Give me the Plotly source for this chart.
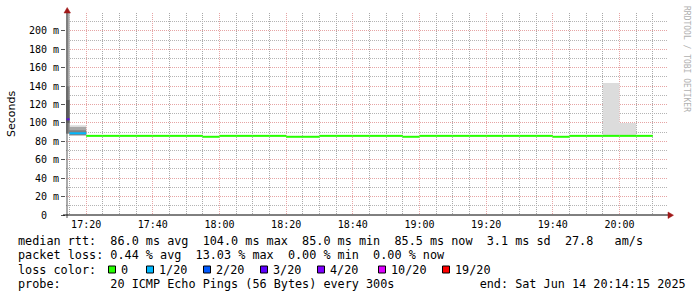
import plotly.graph_objects as go
import pandas as pd

# ---------------- data ----------------
interval_start = list(pd.date_range("2025-06-14 17:10", "2025-06-14 20:05", freq="5min"))
median_ms = ([104.0, 88.8] + [86.0] * 7 + [85.0] + [86.0] * 4 + [85.0, 85.0] + [86.0] * 5
             + [85.0] + [86.0] * 8 + [85.0] + [86.0] * 5)
loss_pings = [3, 1] + [0] * 34

# smoke bands (ms): outermost -> innermost
smoke_b1_lo = [88.0, 86.0] + [85.5] * 34
smoke_b1_hi = [219.5, 97.5] + [86.5] * 31 + [143.5, 100.0, 86.5]
smoke_b2_lo = [88.0, 86.5] + [85.5] * 34
smoke_b2_hi = [219.5, 95.5] + [86.5] * 34
smoke_b3_lo = [89.0, 87.0] + [85.5] * 34
smoke_b3_hi = [140.0, 92.0] + [86.5] * 34
smoke_b4_lo = [100.0, 87.0] + [85.5] * 34
smoke_b4_hi = [125.0, 87.5] + [86.5] * 34

loss_levels = [0, 1, 2, 3, 4, 10, 19]
loss_labels = ["0", "1/20", "2/20", "3/20", "4/20", "10/20", "19/20"]
loss_colors = ["#26ff00", "#00b8ff", "#0059ff", "#5e00ff", "#7e00ff", "#dd00ff", "#ff0000"]

y_tick_vals = [0, 20, 40, 60, 80, 100, 120, 140, 160, 180, 200]
y_tick_text = ["0  ", "20 m", "40 m", "60 m", "80 m", "100 m", "120 m", "140 m",
               "160 m", "180 m", "200 m"]

stats_line1 = "median rtt:  86.0 ms avg  104.0 ms max  85.0 ms min  85.5 ms now  3.1 ms sd  27.8   am/s"
stats_line2 = "packet loss: 0.44 % avg  13.03 % max  0.00 % min  0.00 % now"
probe_line = "probe:       20 ICMP Echo Pings (56 Bytes) every 300s            end: Sat Jun 14 20:14:15 2025"

x_start = "2025-06-14 17:13:57"
x_end = "2025-06-14 20:14:15"

# ---------------- layout geometry ----------------
W, H = 697, 297
ML, MR, MT, MB = 66, 30, 13, 82
PW = W - ML - MR
PH = H - MT - MB


def fx(px):
    return (px - ML) / PW


def fy(py):
    return (MT + PH - py) / PH


def nb(s):
    return s.replace(" ", "\u00a0")


MONO = "DejaVu Sans Mono"
step = pd.Timedelta(minutes=5)

fig = go.Figure()

# smoke bands as filled rectangles
for lo, hi, col in [(smoke_b1_lo, smoke_b1_hi, "#dcdcdc"),
                    (smoke_b2_lo, smoke_b2_hi, "#a8a8a8"),
                    (smoke_b3_lo, smoke_b3_hi, "#828282"),
                    (smoke_b4_lo, smoke_b4_hi, "#5e5e5e")]:
    xs, ys = [], []
    for t, l, h in zip(interval_start, lo, hi):
        if h - l > 0.4 and not (l == 85.5 and h == 86.5):
            xs += [t, t + step, t + step, t, t, None]
            ys += [l, l, h, h, l, None]
    if xs:
        fig.add_trace(go.Scatter(x=xs, y=ys, mode="lines", fill="toself",
                                 fillcolor=col, line=dict(width=0, color=col),
                                 hoverinfo="skip", showlegend=False))

# median segments coloured by loss
for lvl, col in zip(loss_levels, loss_colors):
    xs, ys = [], []
    for t, m, l in zip(interval_start, median_ms, loss_pings):
        if l == lvl:
            xs += [t, t + step, None]
            ys += [m, m, None]
    if xs:
        fig.add_trace(go.Scatter(x=xs, y=ys, mode="lines",
                                 line=dict(color=col, width=2),
                                 hoverinfo="skip", showlegend=False))

fig.update_layout(
    width=W, height=H,
    margin=dict(l=ML, r=MR, t=MT, b=MB, pad=0),
    paper_bgcolor="white", plot_bgcolor="white",
    showlegend=False,
    font=dict(family=MONO, size=10, color="#000000"),
)

fig.update_xaxes(
    type="date", range=[x_start, x_end],
    tick0="2025-06-14 17:00", dtick=20 * 60 * 1000, tickformat="%H:%M",
    showgrid=True, gridcolor="#e6a4a4", griddash="1px,1px", gridwidth=1,
    minor=dict(dtick=5 * 60 * 1000, tick0="2025-06-14 17:00", showgrid=True,
               gridcolor="#a8a8a8", griddash="1px,1px", gridwidth=1),
    showline=False, zeroline=False, ticks="outside", ticklen=0, tickcolor="white",
    tickfont=dict(family=MONO, size=10, color="#000000"),
    fixedrange=True,
)
fig.update_yaxes(
    range=[0, 219.5],
    tickmode="array", tickvals=y_tick_vals, ticktext=[nb(t) for t in y_tick_text],
    showgrid=True, gridcolor="#e6a4a4", griddash="1px,1px", gridwidth=1,
    minor=dict(dtick=10, tick0=0, showgrid=True, gridcolor="#b4b4b4",
               griddash="1px,1px", gridwidth=1),
    showline=False, zeroline=False, ticks="outside", ticklen=4, tickcolor="#555555",
    tickfont=dict(family=MONO, size=10, color="#000000"),
    fixedrange=True,
)

shapes = []
# axes lines
shapes.append(dict(type="line", xref="paper", yref="paper",
                   x0=fx(67), x1=fx(67), y0=fy(218), y1=fy(12),
                   line=dict(color="#555555", width=1)))
shapes.append(dict(type="line", xref="paper", yref="paper",
                   x0=fx(63), x1=fx(669), y0=fy(215), y1=fy(215),
                   line=dict(color="#000000", width=1)))
# arrows
shapes.append(dict(type="path", xref="paper", yref="paper",
                   path=f"M {fx(64)} {fy(13)} L {fx(70.5)} {fy(13)} L {fx(67.2)} {fy(7.5)} Z",
                   fillcolor="#a01818", line=dict(color="#a01818", width=0.5)))
shapes.append(dict(type="path", xref="paper", yref="paper",
                   path=f"M {fx(668)} {fy(212)} L {fx(668)} {fy(218.5)} L {fx(673.5)} {fy(215.2)} Z",
                   fillcolor="#a01818", line=dict(color="#a01818", width=0.5)))

annotations = []
annotations.append(dict(xref="paper", yref="paper", x=fx(11), y=fy(114),
                        text="Seconds", textangle=-90, showarrow=False,
                        font=dict(family="DejaVu Sans", size=11, color="#000000"),
                        xanchor="center", yanchor="middle"))
annotations.append(dict(xref="paper", yref="paper", x=fx(686), y=fy(59),
                        text="RRDTOOL / TOBI OETIKER", textangle=90, showarrow=False,
                        font=dict(family=MONO, size=8, color="#b0b0b0"),
                        xanchor="center", yanchor="middle"))

LEG_FONT = dict(family=MONO, size=11.8, color="#000000")
for txt, py in [(stats_line1, 241), (stats_line2, 255), (probe_line, 284)]:
    annotations.append(dict(xref="paper", yref="paper", x=fx(16), y=fy(py),
                            text=nb(txt), showarrow=False, font=LEG_FONT,
                            xanchor="left", yanchor="middle"))
annotations.append(dict(xref="paper", yref="paper", x=fx(16), y=fy(269.5),
                        text=nb("loss color:"), showarrow=False, font=LEG_FONT,
                        xanchor="left", yanchor="middle"))
square_left = [108, 146, 203, 260, 317, 378, 442]
for sx, lab, col in zip(square_left, loss_labels, loss_colors):
    shapes.append(dict(type="rect", xref="paper", yref="paper",
                       x0=fx(sx + 0.5), x1=fx(sx + 7.5), y0=fy(273), y1=fy(266),
                       fillcolor=col, line=dict(color="#000000", width=1)))
    annotations.append(dict(xref="paper", yref="paper", x=fx(sx + 10.7), y=fy(269.5),
                            text=nb(lab), showarrow=False, font=LEG_FONT,
                            xanchor="left", yanchor="middle"))

fig.update_layout(shapes=shapes, annotations=annotations)

fig.write_html("out.html", config={"displayModeBar": False})
